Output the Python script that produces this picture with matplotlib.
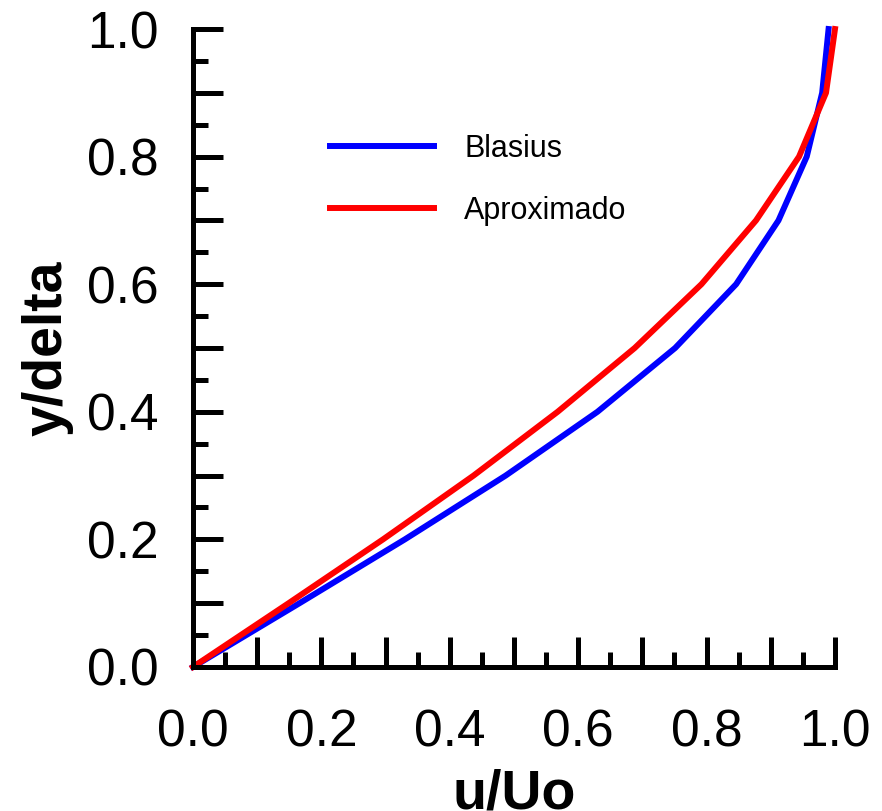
import matplotlib
matplotlib.use('Agg')
import matplotlib.pyplot as plt
from matplotlib.ticker import MultipleLocator, FuncFormatter

plt.rcParams['font.family'] = ['Liberation Sans', 'DejaVu Sans']

# y/delta levels and velocity profiles
yDelta = [0.0, 0.1, 0.2, 0.3, 0.4, 0.5, 0.6, 0.7, 0.8, 0.9, 1.0]
uBlasius = [0.0, 0.166, 0.330, 0.487, 0.630, 0.751, 0.846, 0.912, 0.956, 0.980, 0.990]
uAprox = [0.0, 0.149, 0.296, 0.437, 0.568, 0.688, 0.792, 0.877, 0.944, 0.986, 1.0]

fig = plt.figure(figsize=(8.82, 8.11), dpi=100)
ax = fig.add_axes([0.2188, 0.1776, 0.7279, 0.7866])

ax.plot(uBlasius, yDelta, color='#0000ff', lw=4.3, label='Blasius', clip_on=False)
ax.plot(uAprox, yDelta, color='#ff0000', lw=4.3, label='Aproximado', clip_on=False)

ax.set_xlim(0, 1)
ax.set_ylim(0, 1)

for s in ['top', 'right']:
    ax.spines[s].set_visible(False)
for s in ['left', 'bottom']:
    ax.spines[s].set_linewidth(3.6)
    ax.spines[s].set_capstyle('projecting')

def fmt(v, pos):
    # only every second major tick is labelled
    if round(v * 10) % 2 == 0:
        return '%.1f' % v
    return ''

for axis in [ax.xaxis, ax.yaxis]:
    axis.set_major_locator(MultipleLocator(0.1))
    axis.set_minor_locator(MultipleLocator(0.05))
    axis.set_major_formatter(FuncFormatter(fmt))

ax.tick_params(which='major', direction='in', length=21.5, width=3.6, labelsize=37)
ax.tick_params(which='minor', direction='in', length=11, width=3.6)
ax.tick_params(axis='y', which='major', pad=24.5)
ax.tick_params(axis='x', which='major', pad=30)

ax.set_xlabel('u/Uo', fontsize=40, fontweight='bold', labelpad=8)
ax.set_ylabel('y/delta', fontsize=40, fontweight='bold', labelpad=10)

ax.legend(loc='upper left', bbox_to_anchor=(0.213, 0.836), frameon=False,
          fontsize=22, handlelength=3.4, handletextpad=1.0, labelspacing=1.05,
          borderpad=0, borderaxespad=0)

fig.savefig('out.png', dpi=100)
